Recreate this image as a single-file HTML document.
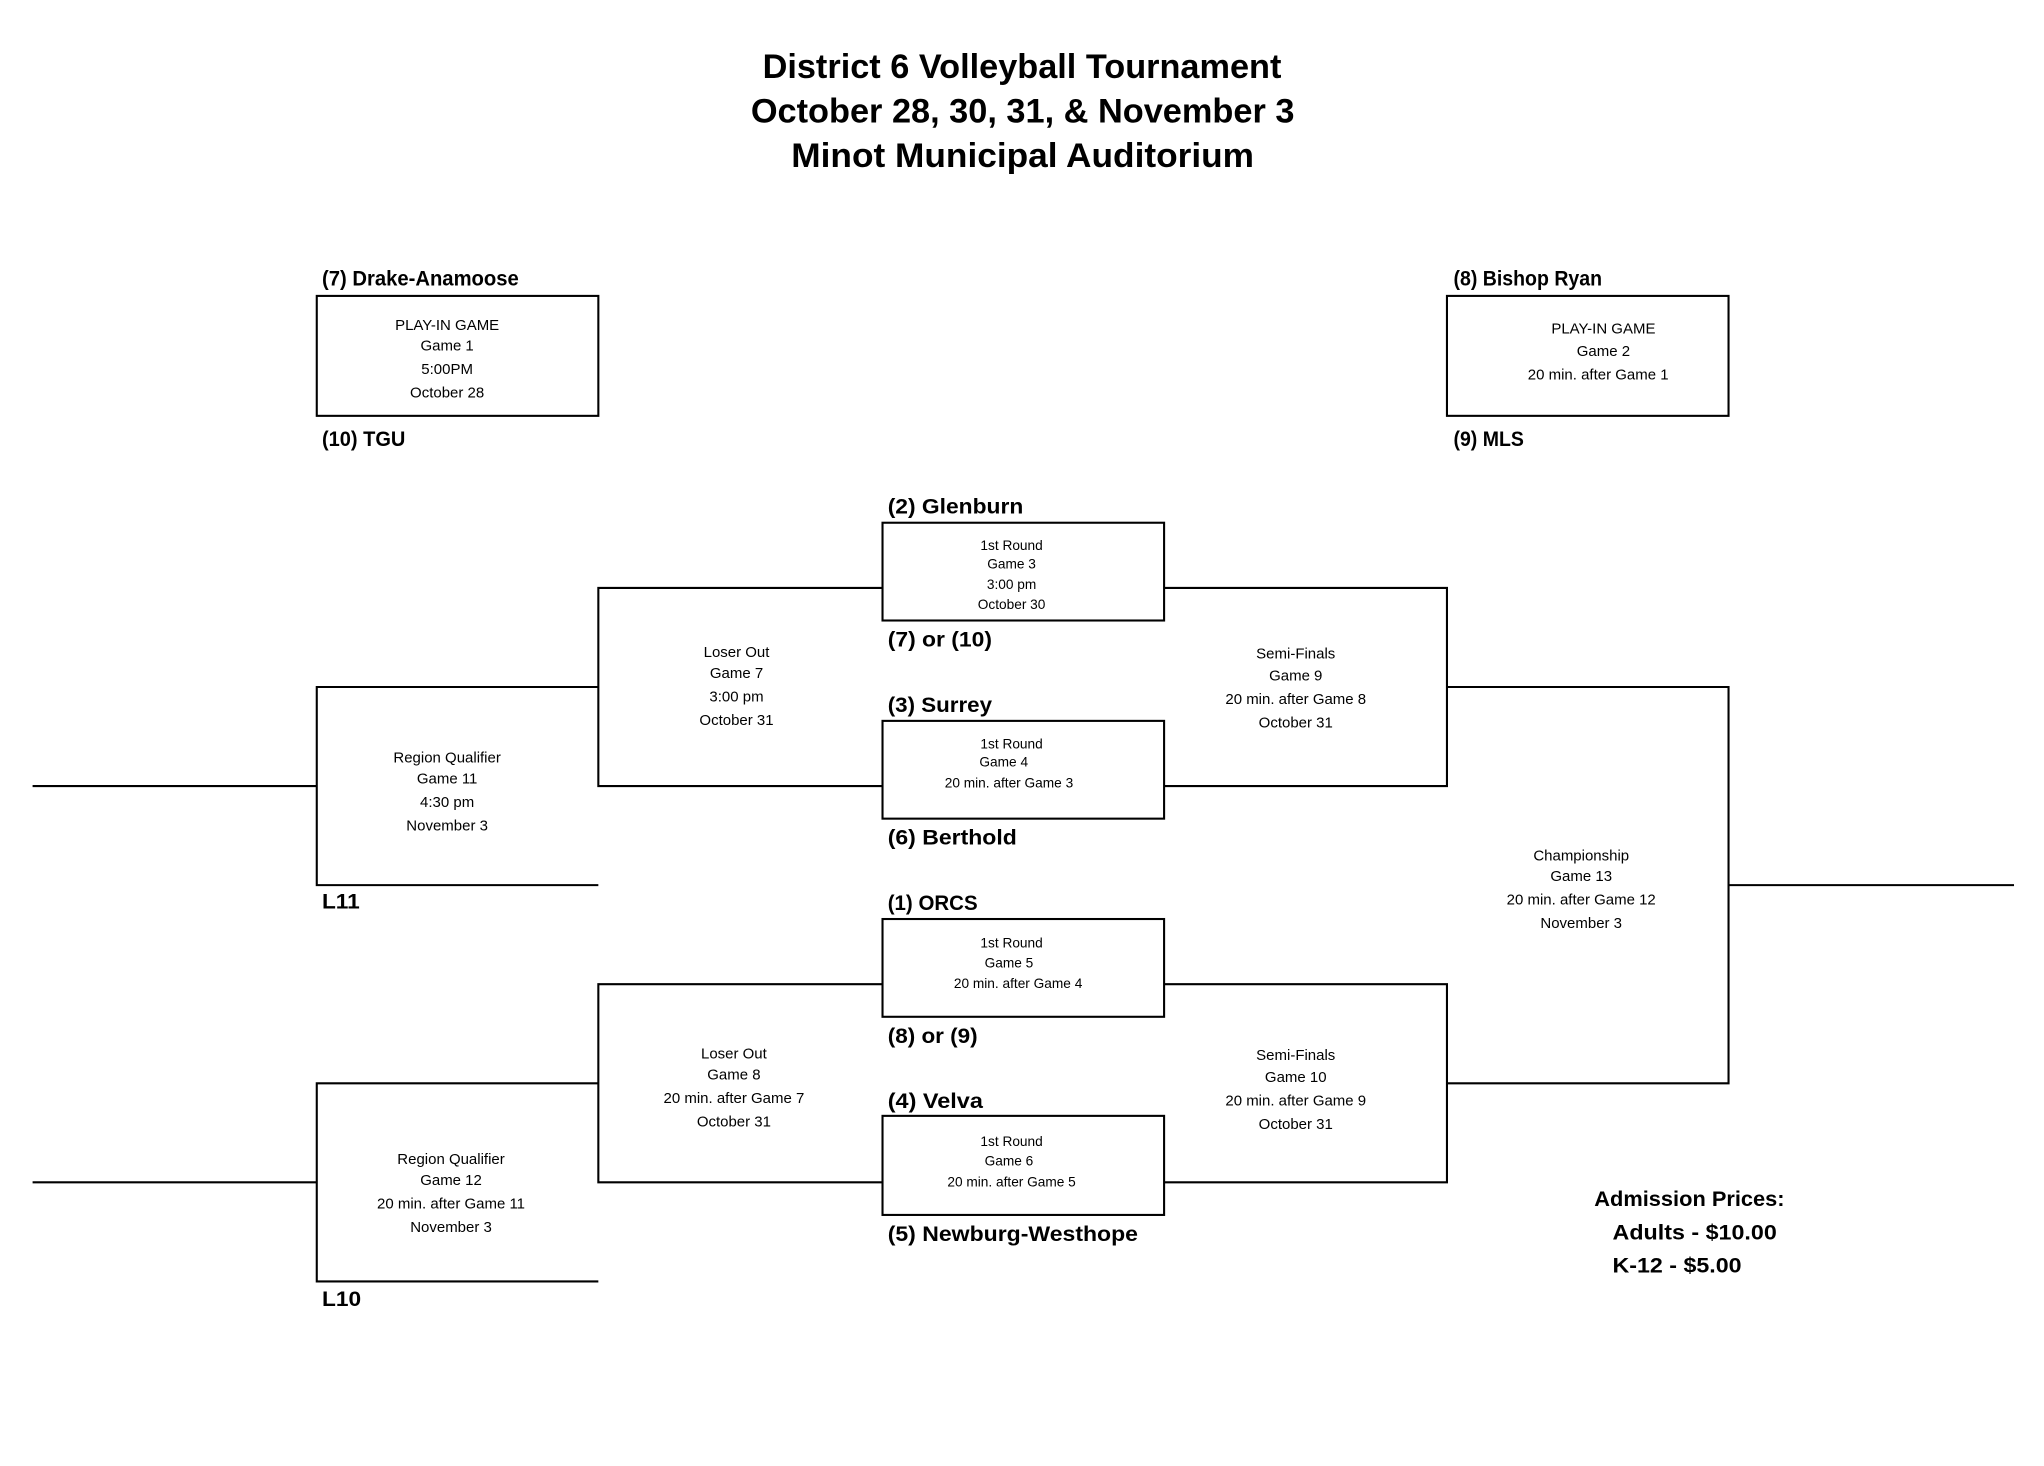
<!DOCTYPE html>
<html><head><meta charset="utf-8"><style>
html,body{margin:0;padding:0;background:#fff;}
svg{display:block;}
text{font-family:"Liberation Sans",sans-serif;fill:#000;}
.b{font-weight:bold;font-size:16px;}
.t{font-weight:bold;font-size:26px;}
.s{font-size:11.5px;text-anchor:middle;}
.xs{font-size:10.5px;text-anchor:middle;}
.l{stroke:#000;stroke-width:1.6;fill:none;}
</style></head><body>
<svg width="2044" height="1466" viewBox="0 0 1568 1124.6" preserveAspectRatio="none">
<text class="t" x="585" y="60" textLength="398" lengthAdjust="spacingAndGlyphs">District 6 Volleyball Tournament</text>
<text class="t" x="576" y="94" textLength="417" lengthAdjust="spacingAndGlyphs">October 28, 30, 31, &amp; November 3</text>
<text class="t" x="607" y="128" textLength="355" lengthAdjust="spacingAndGlyphs">Minot Municipal Auditorium</text>

<!-- play-in boxes -->
<rect class="l" x="243" y="227" width="216" height="92"/>
<rect class="l" x="1110" y="227" width="216" height="92"/>
<text class="b" x="247" y="219" textLength="151" lengthAdjust="spacingAndGlyphs">(7) Drake-Anamoose</text>
<text class="b" x="247" y="342" textLength="64" lengthAdjust="spacingAndGlyphs">(10) TGU</text>
<text class="b" x="1115" y="219" textLength="114" lengthAdjust="spacingAndGlyphs">(8) Bishop Ryan</text>
<text class="b" x="1115" y="342" textLength="54" lengthAdjust="spacingAndGlyphs">(9) MLS</text>
<text class="s" x="343" y="253">PLAY-IN GAME</text>
<text class="s" x="343" y="269">Game 1</text>
<text class="s" x="343" y="287">5:00PM</text>
<text class="s" x="343" y="305">October 28</text>
<text class="s" x="1230" y="256">PLAY-IN GAME</text>
<text class="s" x="1230" y="273">Game 2</text>
<text class="s" x="1226" y="291">20 min. after Game 1</text>

<!-- 1st round boxes -->
<rect class="l" x="677" y="401" width="216" height="75"/>
<rect class="l" x="677" y="553" width="216" height="75"/>
<rect class="l" x="677" y="705" width="216" height="75"/>
<rect class="l" x="677" y="856" width="216" height="76"/>
<text class="b" x="681" y="394" textLength="104" lengthAdjust="spacingAndGlyphs">(2) Glenburn</text>
<text class="b" x="681" y="496" textLength="80" lengthAdjust="spacingAndGlyphs">(7) or (10)</text>
<text class="b" x="681" y="546" textLength="80" lengthAdjust="spacingAndGlyphs">(3) Surrey</text>
<text class="b" x="681" y="648" textLength="99" lengthAdjust="spacingAndGlyphs">(6) Berthold</text>
<text class="b" x="681" y="698" textLength="69" lengthAdjust="spacingAndGlyphs">(1) ORCS</text>
<text class="b" x="681" y="800" textLength="69" lengthAdjust="spacingAndGlyphs">(8) or (9)</text>
<text class="b" x="681" y="850" textLength="73" lengthAdjust="spacingAndGlyphs">(4) Velva</text>
<text class="b" x="681" y="952" textLength="192" lengthAdjust="spacingAndGlyphs">(5) Newburg-Westhope</text>
<text class="xs" x="776" y="422">1st Round</text>
<text class="xs" x="776" y="436">Game 3</text>
<text class="xs" x="776" y="452">3:00 pm</text>
<text class="xs" x="776" y="467">October 30</text>
<text class="xs" x="776" y="574">1st Round</text>
<text class="xs" x="770" y="588">Game 4</text>
<text class="xs" x="774" y="604">20 min. after Game 3</text>
<text class="xs" x="776" y="727">1st Round</text>
<text class="xs" x="774" y="742">Game 5</text>
<text class="xs" x="781" y="758">20 min. after Game 4</text>
<text class="xs" x="776" y="879">1st Round</text>
<text class="xs" x="774" y="894">Game 6</text>
<text class="xs" x="776" y="910">20 min. after Game 5</text>

<!-- brackets -->
<polyline class="l" points="677,451 459,451 459,603 677,603"/>
<polyline class="l" points="893,451 1110,451 1110,603 893,603"/>
<polyline class="l" points="459,527 243,527 243,679 459,679"/>
<line class="l" x1="25" y1="603" x2="243" y2="603"/>
<polyline class="l" points="677,755 459,755 459,907 677,907"/>
<polyline class="l" points="893,755 1110,755 1110,907 893,907"/>
<polyline class="l" points="459,831 243,831 243,983 459,983"/>
<line class="l" x1="25" y1="907" x2="243" y2="907"/>
<polyline class="l" points="1110,527 1326,527 1326,831 1110,831"/>
<line class="l" x1="1326" y1="679" x2="1545" y2="679"/>

<text class="s" x="565" y="504">Loser Out</text>
<text class="s" x="565" y="520">Game 7</text>
<text class="s" x="565" y="538">3:00 pm</text>
<text class="s" x="565" y="556">October 31</text>
<text class="s" x="994" y="505">Semi-Finals</text>
<text class="s" x="994" y="522">Game 9</text>
<text class="s" x="994" y="540">20 min. after Game 8</text>
<text class="s" x="994" y="558">October 31</text>
<text class="s" x="343" y="585">Region Qualifier</text>
<text class="s" x="343" y="601">Game 11</text>
<text class="s" x="343" y="619">4:30 pm</text>
<text class="s" x="343" y="637">November 3</text>
<text class="b" x="247" y="697" textLength="29" lengthAdjust="spacingAndGlyphs">L11</text>
<text class="s" x="563" y="812">Loser Out</text>
<text class="s" x="563" y="828">Game 8</text>
<text class="s" x="563" y="846">20 min. after Game 7</text>
<text class="s" x="563" y="864">October 31</text>
<text class="s" x="994" y="813">Semi-Finals</text>
<text class="s" x="994" y="830">Game 10</text>
<text class="s" x="994" y="848">20 min. after Game 9</text>
<text class="s" x="994" y="866">October 31</text>
<text class="s" x="346" y="893">Region Qualifier</text>
<text class="s" x="346" y="909">Game 12</text>
<text class="s" x="346" y="927">20 min. after Game 11</text>
<text class="s" x="346" y="945">November 3</text>
<text class="b" x="247" y="1002" textLength="30" lengthAdjust="spacingAndGlyphs">L10</text>
<text class="s" x="1213" y="660">Championship</text>
<text class="s" x="1213" y="676">Game 13</text>
<text class="s" x="1213" y="694">20 min. after Game 12</text>
<text class="s" x="1213" y="712">November 3</text>

<text class="b" x="1223" y="925" textLength="146" lengthAdjust="spacingAndGlyphs">Admission Prices:</text>
<text class="b" x="1237" y="951" textLength="126" lengthAdjust="spacingAndGlyphs">Adults - $10.00</text>
<text class="b" x="1237" y="976" textLength="99" lengthAdjust="spacingAndGlyphs">K-12 - $5.00</text>
</svg>
</body></html>
